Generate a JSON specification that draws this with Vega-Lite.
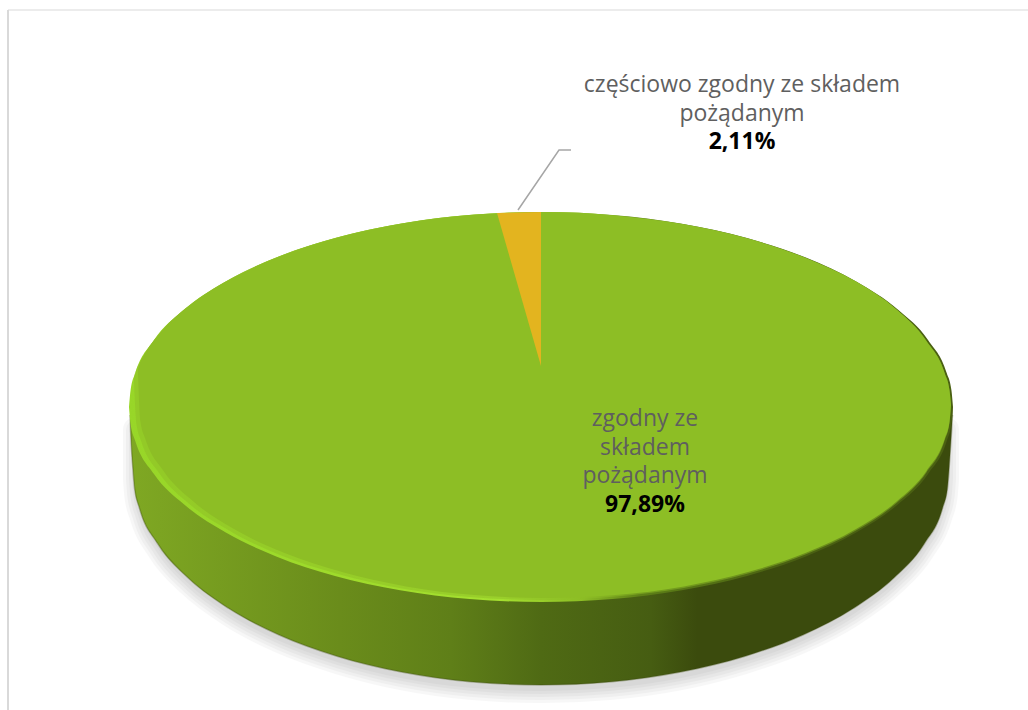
{"$schema":"https://vega.github.io/schema/vega-lite/v6.json","autosize":{"type":"none"},"width":1028,"height":710,"padding":0,"background":"#ffffff","config":{"view":{"stroke":null}},
"datasets":{
"shadow":[{"x":136,"y":430,"y2":478},{"x":137.5,"y":430,"y2":496.5},{"x":142.2,"y":430,"y2":514.8},{"x":160.4,"y":430,"y2":550.5},{"x":190.3,"y":430,"y2":584},{"x":230.8,"y":430,"y2":614.3},{"x":280.7,"y":430,"y2":640.4},{"x":338.5,"y":430,"y2":661.2},{"x":402.5,"y":430,"y2":677.2},{"x":470.7,"y":430,"y2":686.8},{"x":541,"y":430,"y2":690},{"x":611.3,"y":430,"y2":686.8},{"x":679.5,"y":430,"y2":677.2},{"x":743.5,"y":430,"y2":661.2},{"x":801.3,"y":430,"y2":640.4},{"x":851.2,"y":430,"y2":614.3},{"x":891.7,"y":430,"y2":584},{"x":921.6,"y":430,"y2":550.5},{"x":939.8,"y":430,"y2":514.8},{"x":944.5,"y":430,"y2":496.5},{"x":946,"y":430,"y2":478}],
"body":[{"x":130,"y":407,"y2":415},{"x":131,"y":407,"y2":440},{"x":133,"y":407,"y2":470},{"x":134.6,"y":407,"y2":488.7},{"x":139.2,"y":407,"y2":507.3},{"x":157.6,"y":407,"y2":543.5},{"x":187.7,"y":407,"y2":577.5},{"x":228.5,"y":407,"y2":608.2},{"x":278.7,"y":407,"y2":634.7},{"x":337,"y":407,"y2":656.2},{"x":401.5,"y":407,"y2":672},{"x":470.2,"y":407,"y2":681.7},{"x":541,"y":407,"y2":685},{"x":611.8,"y":407,"y2":681.7},{"x":680.5,"y":407,"y2":672},{"x":745,"y":407,"y2":656.2},{"x":803.3,"y":407,"y2":634.7},{"x":853.5,"y":407,"y2":608.2},{"x":894.3,"y":407,"y2":577.5},{"x":924.4,"y":407,"y2":543.5},{"x":942.8,"y":407,"y2":507.3},{"x":947.4,"y":407,"y2":488.7},{"x":949,"y":407,"y2":470},{"x":951,"y":407,"y2":440},{"x":952.5,"y":407,"y2":415}],
"rim":[{"x":129,"y":407,"y2":407},{"x":130.6,"y":390,"y2":424},{"x":135.3,"y":373.1,"y2":440.9},{"x":153.8,"y":340.3,"y2":473.7},{"x":184.2,"y":309.5,"y2":504.5},{"x":225.4,"y":281.7,"y2":532.3},{"x":276.2,"y":257.6,"y2":556.4},{"x":335,"y":238.1,"y2":575.9},{"x":400.1,"y":223.8,"y2":590.2},{"x":469.5,"y":215,"y2":599},{"x":541,"y":212,"y2":602},{"x":612.5,"y":215,"y2":599},{"x":681.9,"y":223.8,"y2":590.2},{"x":747,"y":238.1,"y2":575.9},{"x":805.8,"y":257.6,"y2":556.4},{"x":856.6,"y":281.7,"y2":532.3},{"x":897.8,"y":309.5,"y2":504.5},{"x":928.2,"y":340.3,"y2":473.7},{"x":946.7,"y":373.1,"y2":440.9},{"x":951.4,"y":390,"y2":424},{"x":953,"y":407,"y2":407}],
"mid":[{"x":134,"y":376,"y2":380},{"x":136.5,"y":369,"y2":424},{"x":141.2,"y":360,"y2":441},{"x":159.5,"y":333.4,"y2":473.5},{"x":189.4,"y":305.4,"y2":504},{"x":230,"y":279,"y2":531},{"x":280,"y":256,"y2":555},{"x":338,"y":237.3,"y2":574},{"x":402,"y":223.5,"y2":588.5},{"x":470,"y":215,"y2":597},{"x":545,"y":212.1,"y2":600},{"x":615.5,"y":215.4,"y2":596.6},{"x":683.9,"y":224.3,"y2":587.9},{"x":748,"y":238.6,"y2":573.6},{"x":806,"y":257.9,"y2":554.3},{"x":856,"y":281.5,"y2":530.6},{"x":896.6,"y":309.5,"y2":503},{"x":926.5,"y":341,"y2":472.5},{"x":944.8,"y":373.5,"y2":440},{"x":949.5,"y":390.2,"y2":423},{"x":951,"y":405,"y2":405}],
"face":[{"x":138,"y":369,"y2":374},{"x":140.5,"y":361.3,"y2":421.8},{"x":145.2,"y":352.9,"y2":438.5},{"x":163.5,"y":329,"y2":471},{"x":193.4,"y":302.3,"y2":501.5},{"x":234,"y":277,"y2":529.1},{"x":284,"y":254.6,"y2":552.8},{"x":342,"y":236.3,"y2":572.1},{"x":406.1,"y":222.8,"y2":586.4},{"x":474.5,"y":214.6,"y2":595.1},{"x":545,"y":212.1,"y2":598},{"x":615.5,"y":215.4,"y2":595.1},{"x":683.9,"y":224.3,"y2":586.4},{"x":748,"y":238.6,"y2":572.1},{"x":806,"y":257.9,"y2":552.8},{"x":856,"y":281.5,"y2":529.1},{"x":896.6,"y":309.5,"y2":501.5},{"x":926.5,"y":341,"y2":471},{"x":944.8,"y":373.5,"y2":438.5},{"x":949.5,"y":390.2,"y2":421.8},{"x":951,"y":405,"y2":405}],
"wedge":[{"x":497,"y":213,"y2":213},{"x":541,"y":212,"y2":366}],
"leader":[{"x":518,"y":210},{"x":559,"y":150},{"x":571,"y":150}],
"frameLeft":[{"x":8,"y":10},{"x":8,"y":710}],
"frameTop":[{"x":8,"y":10},{"x":1028,"y":10}],
"names":[{"x":742,"y":85,"t":"częściowo zgodny ze składem\npożądanym"},{"x":645,"y":419,"t":"zgodny ze\nskładem\npożądanym"}],
"values":[{"x":742,"y":142,"t":"2,11%"},{"x":645,"y":505,"t":"97,89%"}]
},
"encoding":{"x":{"field":"x","type":"quantitative","scale":{"domain":[0,1028],"nice":false,"zero":false},"axis":null},"y":{"field":"y","type":"quantitative","scale":{"domain":[0,710],"nice":false,"zero":false,"reverse":true},"axis":null}},
"layer":[
{"data":{"name":"frameLeft"},"mark":{"type":"line","color":"#d9d9d9","strokeWidth":2}},
{"data":{"name":"frameTop"},"mark":{"type":"line","color":"#d9d9d9","strokeWidth":1}},
{"data":{"name":"shadow"},"mark":{"type":"area","interpolate":"monotone","color":"#000000","stroke":"#000000","strokeWidth":26,"opacity":0.028,"strokeJoin":"round"},"encoding":{"y2":{"field":"y2"}}},
{"data":{"name":"shadow"},"mark":{"type":"area","interpolate":"monotone","color":"#000000","stroke":"#000000","strokeWidth":20,"opacity":0.028,"strokeJoin":"round"},"encoding":{"y2":{"field":"y2"}}},
{"data":{"name":"shadow"},"mark":{"type":"area","interpolate":"monotone","color":"#000000","stroke":"#000000","strokeWidth":14,"opacity":0.028,"strokeJoin":"round"},"encoding":{"y2":{"field":"y2"}}},
{"data":{"name":"shadow"},"mark":{"type":"area","interpolate":"monotone","color":"#000000","stroke":"#000000","strokeWidth":8,"opacity":0.028,"strokeJoin":"round"},"encoding":{"y2":{"field":"y2"}}},
{"data":{"name":"shadow"},"mark":{"type":"area","interpolate":"monotone","color":"#000000","stroke":"#000000","strokeWidth":2,"opacity":0.028,"strokeJoin":"round"},"encoding":{"y2":{"field":"y2"}}},
{"data":{"name":"body"},"mark":{"type":"area","interpolate":"monotone","color":{"gradient":"linear","x1":0,"y1":0,"x2":1,"y2":0,"stops":[{"offset":0,"color":"#7fa823"},{"offset":0.255,"color":"#6a8c1b"},{"offset":0.39,"color":"#5f7f18"},{"offset":0.5,"color":"#4f6a14"},{"offset":0.633,"color":"#465d12"},{"offset":0.69,"color":"#3b4b0d"},{"offset":1,"color":"#3b4b0d"}]}},"encoding":{"y2":{"field":"y2"}}},
{"data":{"name":"body"},"mark":{"type":"line","interpolate":"monotone","color":"#3b4b0d","strokeWidth":1.5,"opacity":0.35},"encoding":{"y":{"field":"y2","type":"quantitative"}}},
{"data":{"name":"rim"},"mark":{"type":"area","interpolate":"monotone","color":{"gradient":"linear","x1":0,"y1":0,"x2":1,"y2":0,"stops":[{"offset":0,"color":"#98d628"},{"offset":0.3,"color":"#a0dc2c"},{"offset":0.45,"color":"#a5e030"},{"offset":0.55,"color":"#8dbe25"},{"offset":0.62,"color":"#5d7f17"},{"offset":0.8,"color":"#4a6012"},{"offset":1,"color":"#4a6012"}]}},"encoding":{"y2":{"field":"y2"}}},
{"data":{"name":"mid"},"mark":{"type":"area","interpolate":"monotone","color":"#8dbe25","opacity":0.5},"encoding":{"y2":{"field":"y2"}}},
{"data":{"name":"face"},"mark":{"type":"area","interpolate":"monotone","color":"#8dbe25"},"encoding":{"y2":{"field":"y2"}}},
{"data":{"name":"wedge"},"mark":{"type":"area","color":"#e3b41f"},"encoding":{"y2":{"field":"y2"}}},
{"data":{"name":"leader"},"mark":{"type":"line","color":"#a6a6a6","strokeWidth":1.5}},
{"data":{"name":"names"},"mark":{"type":"text","font":"Open Sans","fontSize":23,"color":"#5f5f5f","align":"center","baseline":"middle","lineBreak":"\n","lineHeight":28.7},"encoding":{"text":{"field":"t"}}},
{"data":{"name":"values"},"mark":{"type":"text","font":"Open Sans","fontSize":23,"fontWeight":"bold","color":"#000000","align":"center","baseline":"middle"},"encoding":{"text":{"field":"t"}}}
]}
